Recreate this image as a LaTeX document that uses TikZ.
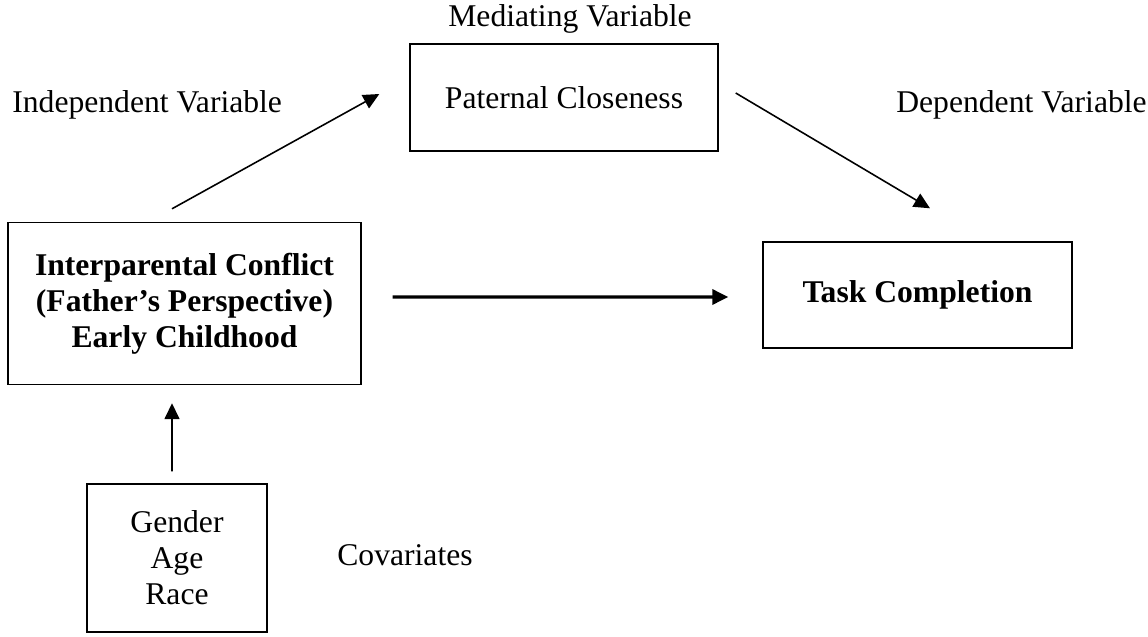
\documentclass[tikz,border=0pt]{standalone}
\usepackage{fontspec}
\setmainfont{Liberation Serif}
\usetikzlibrary{arrows.meta,positioning,calc}
\tikzset{
  varbox/.style={draw=black, line width=0.8pt, align=center, minimum width=#1,
    font=\fontsize{18}{20.5}\selectfont, inner sep=3pt},
  varbox/.default=6.16cm,
  keybox/.style={varbox=#1, font=\fontsize{18}{20.5}\selectfont\bfseries},
  keybox/.default=6.16cm,
  lbl/.style={font=\fontsize{18}{20.5}\selectfont, inner sep=0pt},
  patharr/.style={-{Triangle[length=0.32cm, width=0.3cm]}, line width=0.9pt, black},
  mainarr/.style={-{Triangle[length=0.32cm, width=0.3cm]}, line width=1.9pt, black},
}
\begin{document}
\begin{tikzpicture}
  \useasboundingbox (0,0) rectangle (22.96,12.72);
  \node[keybox=7.06cm, minimum height=3.24cm] (conflict) at (3.69,6.65) {Interparental Conflict \\ (Father’s Perspective) \\ Early Childhood};
  \node[varbox, minimum height=2.14cm] (closeness) at (11.28,10.77) {Paternal Closeness};
  \node[keybox=6.18cm, minimum height=2.12cm] (task) at (18.35,6.82) {Task Completion};
  \node[varbox=3.6cm, minimum height=2.96cm] (covs) at (3.54,1.56) {Gender \\ Age \\ Race};
  % etiquetas
  \node[lbl, anchor=base] (medlbl) at (11.40,12.18) {Mediating Variable};
  \node[lbl, anchor=base west] (indlbl) at (0.24,10.46) {Independent Variable};
  \node[lbl, anchor=base east] (deplbl) at (22.94,10.46) {Dependent Variable};
  \node[lbl, anchor=base west] (covlbl) at (6.74,1.42) {Covariates};
  % flechas
  \draw[patharr] ([shift={(-0.25,0.26)}]conflict.north) -- ([shift={(-0.6,0.07)}]closeness.west);
  \draw[patharr] ([shift={(0.34,0.09)}]closeness.east) -- ([shift={(0.25,0.66)}]task.north);
  \draw[mainarr] ([shift={(0.62,0.13)}]conflict.east) -- ([shift={(-0.68,-0.04)}]task.west);
  \draw[patharr] ([shift={(-0.1,0.24)}]covs.north) -- ([shift={(-0.25,-0.36)}]conflict.south);
\end{tikzpicture}
\end{document}
